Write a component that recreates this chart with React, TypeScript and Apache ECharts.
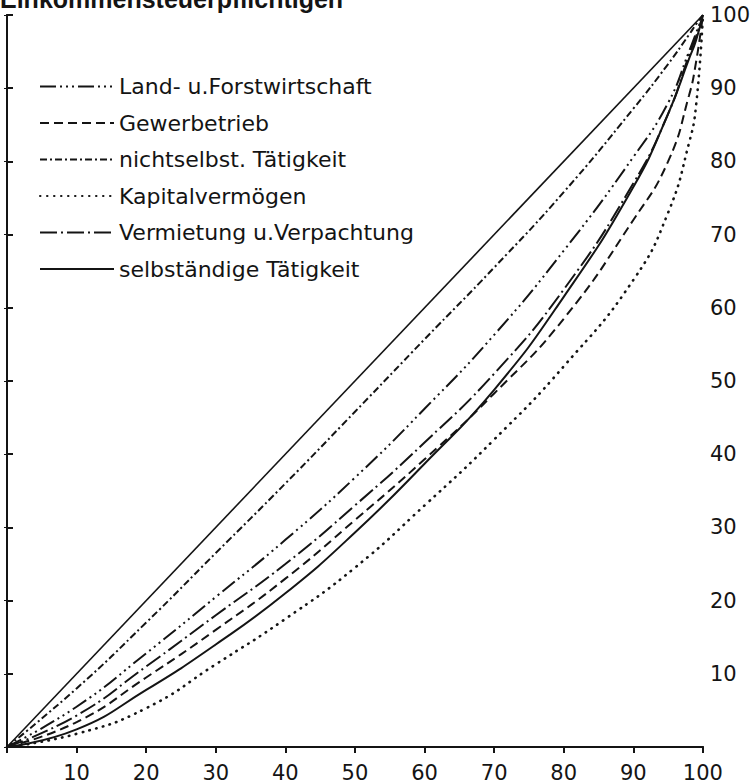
import React, { useEffect, useRef } from "react";
import * as echarts from "echarts";

const titleText = "Einkommensteuerpflichtigen";
const xPoints = [0, 10, 20, 30, 40, 50, 60, 70, 80, 90, 95, 98, 99, 100];
const tickLabels = [10, 20, 30, 40, 50, 60, 70, 80, 90, 100];

const landForst = [0, 5.5, 12.8, 20.5, 28.3, 36.8, 46.2, 56.3, 67.8, 80.6, 88, 95, 97.5, 100];
const gewerbe = [0, 3.4, 9.5, 16, 23, 31, 39.3, 48.3, 58.5, 72, 80, 89, 93.5, 100];
const nichtselbst = [0, 8, 17, 26.5, 36, 45.8, 55.7, 65.5, 75.8, 87.2, 93.3, 97.3, 98.7, 100];
const kapital = [0, 1.8, 5.3, 11.3, 17.5, 24.5, 33, 42, 52, 63.8, 73, 82.5, 87.5, 100];
const vermietung = [0, 4.3, 11, 18, 25, 33, 41.6, 51, 62.5, 77, 86.5, 94.5, 97, 100];
const selbst = [0, 2.4, 7.8, 14, 21, 29.3, 38.7, 48.8, 61.5, 76.5, 86.5, 94, 96.5, 100];
const equality = [0, 100];

const seriesNames = [
  "Land- u.Forstwirtschaft",
  "Gewerbetrieb",
  "nichtselbst. Tätigkeit",
  "Kapitalvermögen",
  "Vermietung u.Verpachtung",
  "selbständige Tätigkeit",
];

const INK = "#141414";
const FONT = "'DejaVu Sans', sans-serif";

export default function App() {
  const ref = useRef<HTMLDivElement>(null);
  useEffect(() => {
    if (!ref.current) return;
    const chart = echarts.init(ref.current, undefined, { renderer: "svg" });
    const pairs = (ys: number[]) => xPoints.map((x, i) => [x, ys[i]]);
    const lineSeries = (name: string, ys: number[], type: any, width: number, cap = "butt") => ({
      name,
      type: "line",
      data: pairs(ys),
      smooth: 0.5,
      symbol: "none",
      lineStyle: { color: INK, width, type, cap },
      itemStyle: { color: INK, opacity: 0 },
      z: 3,
    });
    const labelFmt = (v: number) => (tickLabels.indexOf(v) >= 0 ? String(v) : "");
    chart.setOption({
      animation: false,
      backgroundColor: "#ffffff",
      grid: { left: 7, right: 38, top: 15, bottom: 31 },
      legend: {
        orient: "vertical",
        left: 34,
        top: 70,
        itemWidth: 74,
        itemHeight: 14,
        itemGap: 13.5,
        data: seriesNames,
        itemStyle: { opacity: 0 },
        textStyle: { fontFamily: FONT, fontSize: 22, color: INK, lineHeight: 23 },
      },
      graphic: [
        {
          type: "text",
          left: 0,
          top: -14,
          style: {
            text: titleText,
            font: "bold 25px 'Liberation Sans', Arial, sans-serif",
            fill: INK,
          },
        },
      ],
      xAxis: [
        {
          type: "value",
          min: 0,
          max: 100,
          interval: 10,
          position: "bottom",
          splitLine: { show: false },
          axisLine: { lineStyle: { color: INK, width: 2 } },
          axisTick: { show: true, length: 6, lineStyle: { color: INK, width: 2 } },
          axisLabel: { formatter: labelFmt, fontFamily: FONT, fontSize: 21, color: INK, margin: 15 },
        },
        {
          type: "value",
          min: 0,
          max: 100,
          position: "top",
          splitLine: { show: false },
          axisLine: { lineStyle: { color: INK, width: 2 } },
          axisTick: { show: false },
          axisLabel: { show: false },
        },
      ],
      yAxis: [
        {
          type: "value",
          min: 0,
          max: 100,
          interval: 10,
          position: "right",
          splitLine: { show: false },
          axisLine: { show: true, lineStyle: { color: INK, width: 2 } },
          axisTick: { show: true, length: 6, lineStyle: { color: INK, width: 2 } },
          axisLabel: { formatter: labelFmt, fontFamily: FONT, fontSize: 21, color: INK, margin: 7 },
        },
        {
          type: "value",
          min: 0,
          max: 100,
          interval: 10,
          position: "left",
          splitLine: { show: false },
          axisLine: { show: true, lineStyle: { color: INK, width: 2 } },
          axisTick: { show: true, length: 3, lineStyle: { color: INK, width: 1 } },
          axisLabel: { show: false },
        },
      ],
      series: [
        {
          name: "Gleichverteilung",
          type: "line",
          data: [[0, equality[0]], [100, equality[1]]],
          symbol: "none",
          lineStyle: { color: INK, width: 1.6, type: "solid" },
          z: 2,
        },
        lineSeries(seriesNames[0], landForst, [16, 4, 2, 4, 2, 4, 2, 4], 2),
        lineSeries(seriesNames[1], gewerbe, [9, 5], 2),
        lineSeries(seriesNames[2], nichtselbst, [7, 3, 2, 3], 2),
        lineSeries(seriesNames[3], kapital, [0.5, 6.5], 2.6, "round"),
        lineSeries(seriesNames[4], vermietung, [17, 4, 2, 4], 2),
        lineSeries(seriesNames[5], selbst, "solid", 2),
      ],
    });
    return () => chart.dispose();
  }, []);
  return (
    <div
      ref={ref}
      style={{ position: "absolute", left: 0, top: 0, width: 753, height: 783, background: "#fff" }}
    />
  );
}
